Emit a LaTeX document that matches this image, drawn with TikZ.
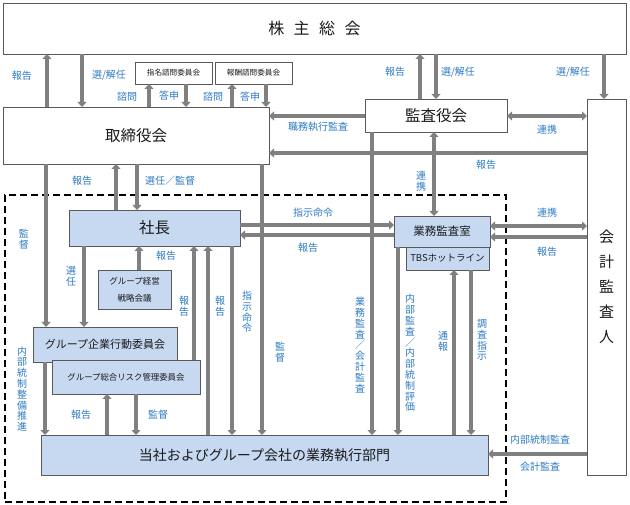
\documentclass[tikz,border=0pt]{standalone}
\usepackage{fontspec}
\setmainfont{Noto Sans CJK JP}
\usetikzlibrary{arrows.meta}
\definecolor{lgray}{HTML}{808080}
\definecolor{lblue}{HTML}{2E7BC4}
\definecolor{bfill}{HTML}{C6D9F1}
\definecolor{bdraw}{HTML}{595959}
\definecolor{txt}{HTML}{1A1A1A}
\begin{document}
\begin{tikzpicture}[x=1pt,y=-1pt,
  box/.style={draw=bdraw, line width=0.9pt, fill=white, outer sep=0pt, inner sep=0pt, text=txt, align=center},
  bbox/.style={box, fill=bfill},
  arr/.style={draw=lgray, line width=3.2pt, -{Triangle[length=5pt,width=9pt]}},
  darr/.style={draw=lgray, line width=3.2pt, {Triangle[length=5pt,width=9pt]}-{Triangle[length=5pt,width=9pt]}},
  lab/.style={text=lblue, inner sep=0pt, font=\fontsize{10}{10.8}\selectfont, align=center},
  grp/.style={draw=black, line width=1.2pt, dash pattern=on 7pt off 4pt, inner sep=0pt, outer sep=0pt}]
\useasboundingbox (0,0) rectangle (630,505);
\fill[white] (0,0) rectangle (630,505);
% group frame
\node[grp, minimum width=501pt, minimum height=307pt] (group) at (255.5,348.5) {};
% boxes
\node[box, minimum width=623pt, minimum height=51pt, font=\fontsize{16}{18}\selectfont] (kabu) at (314.5,28.5) {株\hspace{9.5pt}主\hspace{9.5pt}総\hspace{9.5pt}会};
\node[box, minimum width=77pt, minimum height=22pt, font=\fontsize{7.6}{9}\selectfont] (shimei) at (173.5,73) {指名諮問委員会};
\node[box, minimum width=77pt, minimum height=22pt, font=\fontsize{7.6}{9}\selectfont] (houshu) at (253.5,73) {報酬諮問委員会};
\node[box, minimum width=266pt, minimum height=57pt, font=\fontsize{15.5}{18}\selectfont] (tori) at (136,135.5) {取締役会};
\node[box, minimum width=142pt, minimum height=33pt, font=\fontsize{15.5}{18}\selectfont] (kansa) at (436,115.5) {監査役会};
\node[box, minimum width=39pt, minimum height=376pt, font=\fontsize{15}{25}\selectfont] (kaikei) at (606.5,287) {会\\計\\監\\査\\人};
\node[bbox, minimum width=171pt, minimum height=36pt, font=\fontsize{15.5}{18}\selectfont] (shacho) at (154.5,228) {社長};
\node[bbox, minimum width=96pt, minimum height=31pt, font=\fontsize{11.5}{13}\selectfont] (gyomu) at (442,231.5) {業務監査室};
\node[bbox, minimum width=83pt, minimum height=23pt, font=\fontsize{9.5}{11}\selectfont] (tbs) at (447.5,258.5) {TBSホットライン};
\node[bbox, minimum width=73pt, minimum height=39pt, font=\fontsize{8.5}{17}\selectfont] (senryaku) at (134.5,289.5) {グループ経営\\戦略会議};
\node[bbox, minimum width=144pt, minimum height=35pt, font=\fontsize{11}{13}\selectfont] (kodo) at (105,344.5) {グループ企業行動委員会};
\node[bbox, minimum width=148pt, minimum height=34pt, font=\fontsize{8.4}{10}\selectfont] (risk) at (126,377) {グループ総合リスク管理委員会};
\node[bbox, minimum width=447pt, minimum height=40pt, font=\fontsize{14}{16}\selectfont] (bumon) at (264.5,455) {当社およびグループ会社の業務執行部門};
% arrows top
\draw[arr] (tori.north -| 47,0) -- (kabu.south -| 47,0);
\draw[arr] (kabu.south -| 82,0) -- (tori.north -| 82,0);
\draw[arr] (tori.north -| 149,0) -- (shimei.south -| 149,0);
\draw[arr] (shimei.south -| 186,0) -- (tori.north -| 186,0);
\draw[arr] (tori.north -| 232,0) -- (houshu.south -| 232,0);
\draw[arr] (houshu.south -| 266,0) -- (tori.north -| 266,0);
\draw[arr] (kansa.north -| 420,0) -- (kabu.south -| 420,0);
\draw[arr] (kabu.south -| 436,0) -- (kansa.north -| 436,0);
\draw[arr] (kabu.south -| 604,0) -- (kaikei.north -| 604,0);
% horizontals
\draw[darr] (kansa.east |- 0,116) -- (kaikei.west |- 0,116);
\draw[arr] (kansa.west |- 0,116) -- (tori.east |- 0,116);
\draw[arr] (kaikei.west |- 0,153) -- (tori.east |- 0,153);
% from tori down
\draw[arr] (tori.south -| 46,0) -- (kodo.north -| 46,0);
\draw[arr] (shacho.north -| 116,0) -- (tori.south -| 116,0);
\draw[arr] (tori.south -| 137,0) -- (shacho.north -| 137,0);
\draw[arr] (tori.south -| 262,0) -- (bumon.north -| 262,0);
% from kansa down
\draw[arr] (kansa.south -| 372,0) -- (bumon.north -| 372,0);
\draw[darr] (kansa.south -| 434,0) -- (gyomu.north -| 434,0);
% shacho <-> gyomu
\draw[arr] (shacho.east |- 0,225) -- (gyomu.west |- 0,225);
\draw[arr] (gyomu.west |- 0,235) -- (shacho.east |- 0,235);
% gyomu <-> kaikei
\draw[darr] (gyomu.east |- 0,226) -- (kaikei.west |- 0,226);
\draw[arr] (kaikei.west |- 0,237) -- (gyomu.east |- 0,237);
% shacho region
\draw[arr] (shacho.south -| 84,0) -- (kodo.north -| 84,0);
\draw[arr] (senryaku.north -| 139,0) -- (shacho.south -| 139,0);
\draw[arr] (risk.north -| 194,0) -- (shacho.south -| 194,0);
\draw[arr] (bumon.north -| 208,0) -- (shacho.south -| 208,0);
\draw[arr] (shacho.south -| 232,0) -- (bumon.north -| 232,0);
% lower left
\draw[arr] (kodo.south -| 45,0) -- (bumon.north -| 45,0);
\draw[arr] (bumon.north -| 107,0) -- (risk.south -| 107,0);
\draw[arr] (risk.south -| 136,0) -- (bumon.north -| 136,0);
% gyomu down
\draw[arr] (gyomu.south -| 398,0) -- (bumon.north -| 398,0);
\draw[arr] (bumon.north -| 454,0) -- (tbs.south -| 454,0);
\draw[arr] (tbs.south -| 471,0) -- (bumon.north -| 471,0);
% kaikei -> bumon
\draw[arr] (kaikei.west |- 0,454) -- (bumon.east |- 0,454);
% labels
\node[lab] (l1) at (22,76) {報告};
\node[lab] (l2) at (109,75) {選/解任};
\node[lab] (l3) at (127,97) {諮問};
\node[lab] (l4) at (169,96) {答申};
\node[lab] (l5) at (213,97) {諮問};
\node[lab] (l6) at (250,97) {答申};
\node[lab] (l7) at (395,72) {報告};
\node[lab] (l8) at (458,72) {選/解任};
\node[lab] (l9) at (573,72) {選/解任};
\node[lab] (l10) at (318,127) {職務執行監査};
\node[lab] (l11) at (547,130) {連携};
\node[lab] (l12) at (486,165) {報告};
\node[lab] (l13) at (421,181) {連\\携};
\node[lab] (l14) at (82,181) {報告};
\node[lab] (l15) at (170,181) {選任／監督};
\node[lab] (l16) at (24,239) {監\\督};
\node[lab] (l17) at (313,213) {指示命令};
\node[lab] (l18) at (308,248) {報告};
\node[lab] (l19) at (547,213) {連携};
\node[lab] (l20) at (547,252) {報告};
\node[lab] (l21) at (71,276) {選\\任};
\node[lab] (l22) at (166,256) {報告};
\node[lab] (l23) at (184,306) {報\\告};
\node[lab] (l24) at (220,306) {報\\告};
\node[lab] (l25) at (247,312) {指\\示\\命\\令};
\node[lab] (l26) at (280,352) {監\\督};
\node[lab] (l27) at (360,345) {業\\務\\監\\査\\／\\会\\計\\監\\査};
\node[lab] (l28) at (410,353) {内\\部\\監\\査\\／\\内\\部\\統\\制\\評\\価};
\node[lab] (l29) at (443,341) {通\\報};
\node[lab] (l30) at (482,340) {調\\査\\指\\示};
\node[lab] (l31) at (22,389) {内\\部\\統\\制\\整\\備\\推\\進};
\node[lab] (l32) at (81,415) {報告};
\node[lab] (l33) at (158,415) {監督};
\node[lab] (l34) at (540,440) {内部統制監査};
\node[lab] (l35) at (540,467) {会計監査};
\end{tikzpicture}
\end{document}
